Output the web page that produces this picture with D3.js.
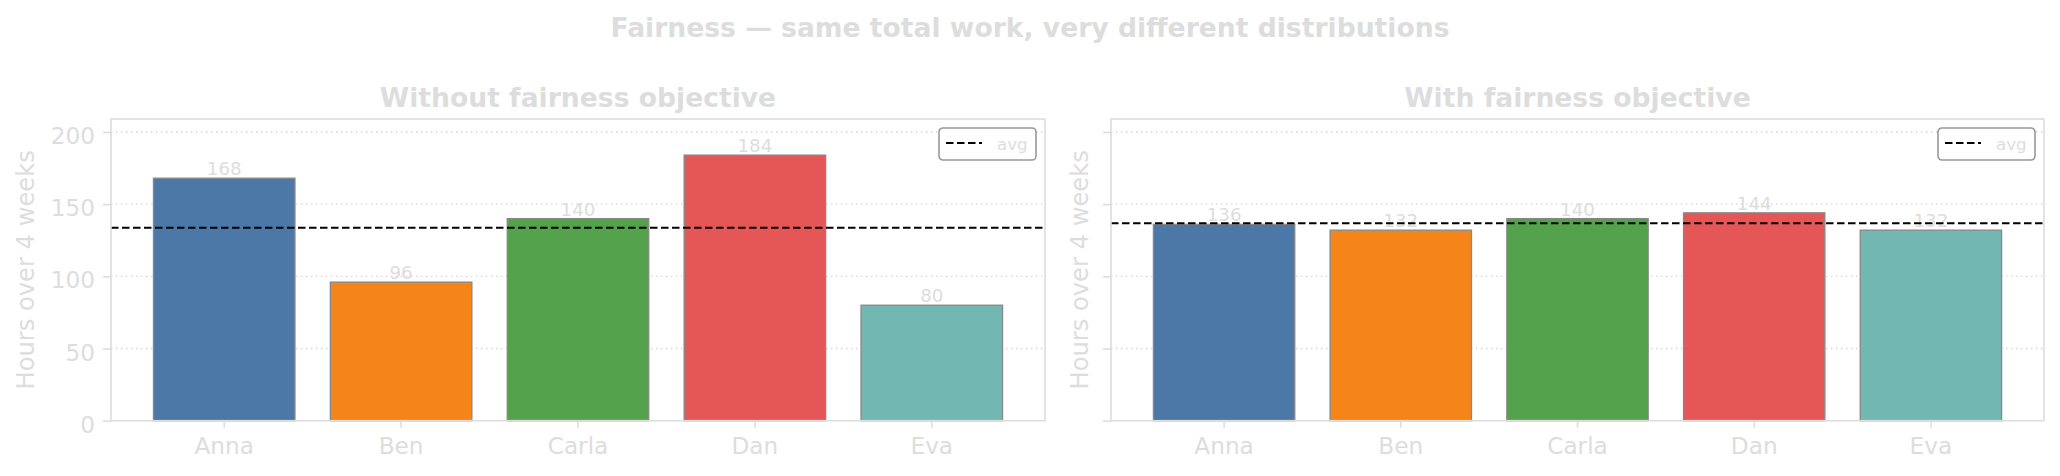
<!DOCTYPE html>
<html>
<head>
<meta charset="utf-8">
<script src="https://cdn.jsdelivr.net/npm/d3@7/dist/d3.min.js"></script>
<style>
  body { margin: 0; background: #fff; }
  svg { display: block; font-family: "DejaVu Sans", sans-serif; }
</style>
</head>
<body>
<div id="chart"></div>
<script>
// data
const people = ["Anna", "Ben", "Carla", "Dan", "Eva"];
const hoursWithout = [168, 96, 140, 184, 80];
const hoursWith = [136, 132, 140, 144, 132];
const yTicks = [0, 50, 100, 150, 200];
const barColors = ["#4c78a8", "#f58518", "#54a24b", "#e45756", "#72b7b2"];

const W = 2060, H = 476;
const textColor = "#dddddd";
const frameColor = "#dddddd";

const svg = d3.select("#chart").append("svg")
    .attr("width", W)
    .attr("height", H);

// suptitle
svg.append("text")
    .attr("x", W / 2)
    .attr("y", 37)
    .attr("text-anchor", "middle")
    .attr("font-size", 26.6)
    .attr("font-weight", "bold")
    .attr("fill", textColor)
    .text("Fairness \u2014 same total work, very different distributions");

const plotTop = 119, plotBottom = 420.7;

let y = d3.scaleLinear()
    .domain([0, 209])
    .range([plotBottom, plotTop]);

function drawPanel(left, width, title, values, showTickLabels) {
    let g = svg.append("g")
        .attr("transform", "translate(" + left + ",0)");

    let x = d3.scaleBand()
        .domain(people)
        .range([0, width])
        .paddingInner(0.2)
        .paddingOuter(0.24);

    // grid
    g.append("g")
        .selectAll("line")
        .data(yTicks.filter(d => d > 0))
        .join("line")
        .attr("x1", 0)
        .attr("x2", width)
        .attr("y1", d => y(d))
        .attr("y2", d => y(d))
        .attr("stroke", "#d4d4d4")
        .attr("stroke-width", 1.4)
        .attr("stroke-dasharray", "1.4,3.6");

    // bars
    g.append("g")
        .selectAll("rect")
        .data(values)
        .join("rect")
        .attr("x", (d, i) => x(people[i]))
        .attr("y", d => y(d))
        .attr("width", x.bandwidth())
        .attr("height", d => y(0) - y(d))
        .attr("fill", (d, i) => barColors[i])
        .attr("stroke", "#888888")
        .attr("stroke-width", 1.3);

    // value labels
    g.append("g")
        .selectAll("text")
        .data(values)
        .join("text")
        .attr("x", (d, i) => x(people[i]) + x.bandwidth() / 2)
        .attr("y", d => y(d) - 3)
        .attr("text-anchor", "middle")
        .attr("font-size", 18.3)
        .attr("fill", textColor)
        .text(d => d);

    // average line
    let avg = d3.mean(values);
    g.append("line")
        .attr("x1", 0)
        .attr("x2", width)
        .attr("y1", y(avg))
        .attr("y2", y(avg))
        .attr("stroke", "#000")
        .attr("stroke-width", 2)
        .attr("stroke-dasharray", "7.5,3.5");

    // frame
    g.append("rect")
        .attr("x", 0)
        .attr("y", plotTop)
        .attr("width", width)
        .attr("height", plotBottom - plotTop)
        .attr("fill", "none")
        .attr("stroke", frameColor)
        .attr("stroke-width", 1.6);

    // y axis
    let yAxis = d3.axisLeft(y)
        .tickValues(yTicks)
        .tickSize(8)
        .tickPadding(8)
        .tickFormat(showTickLabels ? d3.format("d") : "");
    let ya = g.append("g").call(yAxis);
    ya.select(".domain").remove();
    ya.selectAll("line").attr("stroke", frameColor).attr("stroke-width", 1.6);
    ya.selectAll("text")
        .attr("fill", textColor)
        .attr("font-size", 23.2)
        .attr("font-family", "DejaVu Sans")
        .attr("dy", "0.5em");

    // x axis
    let xAxis = d3.axisBottom(x)
        .tickSize(7)
        .tickPadding(10);
    let xa = g.append("g")
        .attr("transform", "translate(0," + plotBottom + ")")
        .call(xAxis);
    xa.select(".domain").remove();
    xa.selectAll("line").attr("stroke", frameColor).attr("stroke-width", 1.6);
    xa.selectAll("text")
        .attr("fill", textColor)
        .attr("font-size", 23.2)
        .attr("font-family", "DejaVu Sans");

    // y label
    g.append("text")
        .attr("transform", "translate(" + (showTickLabels ? -85 : -31) + "," + ((plotTop + plotBottom) / 2) + ") rotate(-90)")
        .attr("text-anchor", "middle")
        .attr("dy", "0.35em")
        .attr("font-size", 24.2)
        .attr("fill", textColor)
        .text("Hours over 4 weeks");

    // subplot title
    g.append("text")
        .attr("x", width / 2)
        .attr("y", 107)
        .attr("text-anchor", "middle")
        .attr("font-size", 26.6)
        .attr("font-weight", "bold")
        .attr("fill", textColor)
        .text(title);

    // legend
    let lg = g.append("g")
        .attr("transform", "translate(" + (width - 106) + ",128)");
    lg.append("rect")
        .attr("width", 97)
        .attr("height", 32)
        .attr("rx", 4)
        .attr("fill", "#fff")
        .attr("stroke", "#999999")
        .attr("stroke-width", 1.6);
    lg.append("line")
        .attr("x1", 7)
        .attr("x2", 43)
        .attr("y1", 15)
        .attr("y2", 15)
        .attr("stroke", "#000")
        .attr("stroke-width", 2)
        .attr("stroke-dasharray", "7.5,3.5");
    lg.append("text")
        .attr("x", 58)
        .attr("y", 21.5)
        .attr("font-size", 16.7)
        .attr("fill", textColor)
        .text("avg");
}

drawPanel(111, 934, "Without fairness objective", hoursWithout, true);
drawPanel(1111, 933, "With fairness objective", hoursWith, false);
</script>
</body>
</html>
